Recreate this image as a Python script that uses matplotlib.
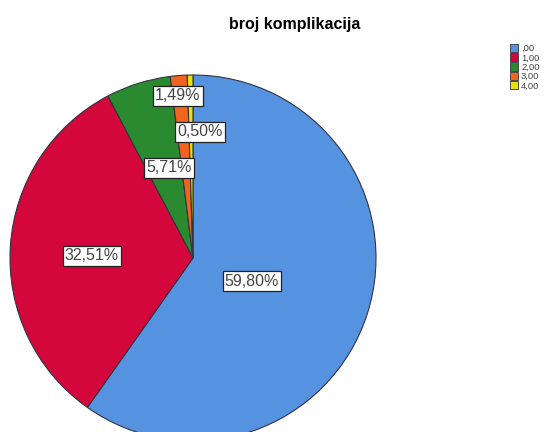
import matplotlib
matplotlib.use("Agg")
import matplotlib.pyplot as plt
from matplotlib.patches import Patch

# share of patients by number of complications
categories = [",00", "1,00", "2,00", "3,00", "4,00"]
percents = [59.80, 32.51, 5.71, 1.49, 0.50]
colors = ["#5592e0", "#d3073c", "#2a8a30", "#f0641e", "#e6e010"]

# label anchor points in pixel space (x, y from top)
label_pos = [(252, 281), (92, 256), (169, 168), (178, 96), (200, 132)]

W, H = 551, 432
fig = plt.figure(figsize=(W / 100, H / 100), dpi=100)
ax = fig.add_axes([0, 0, 1, 1])

cx, cy, r = 193, H - 258, 183
ax.pie(percents, colors=colors, startangle=90, counterclock=False,
       center=(cx, cy), radius=r, frame=True,
       wedgeprops=dict(edgecolor="#333340", linewidth=0.8))
ax.set_xlim(0, W)
ax.set_ylim(0, H)
ax.set_aspect("equal")
ax.axis("off")

for p, (x, y) in zip(percents, label_pos):
    txt = f"{p:.2f}%".replace(".", ",")
    ax.text(x, H - y, txt, ha="center", va="center", fontsize=11.5,
            family="Liberation Sans", color="#444444",
            bbox=dict(boxstyle="square,pad=0.14", facecolor="white",
                      edgecolor="#222222", linewidth=0.9))

fig.text(295 / W, 1 - 24 / H, "broj komplikacija", ha="center", va="center",
         fontsize=11.5, fontweight="bold", family="Liberation Sans")

handles = [Patch(facecolor=c, edgecolor="#333340", linewidth=0.6) for c in colors]
leg = fig.legend(handles, categories, loc="upper left",
                 bbox_to_anchor=(505 / W, 1 - 39 / H), frameon=False,
                 prop=dict(family="Liberation Sans", size=6.8),
                 handlelength=0.9, handleheight=0.95, handletextpad=0.3,
                 labelspacing=0.0, borderpad=0, labelcolor="#444444")

fig.savefig("out.png", dpi=100)
